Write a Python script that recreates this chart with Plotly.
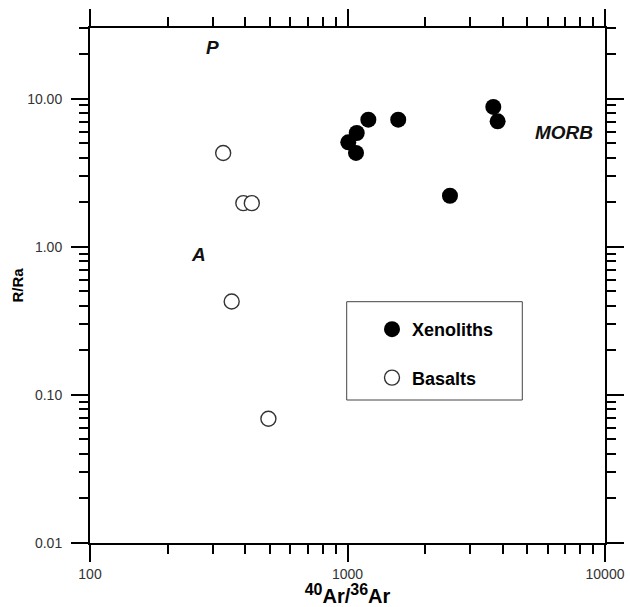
import math
import plotly.graph_objects as go

# ---- data ----
xeno_x = [1205, 1574, 1086, 1007, 1079, 3683, 3828, 2500]
xeno_y = [7.21, 7.21, 5.86, 5.07, 4.30, 8.79, 7.03, 2.21]

bas_x = [329, 394, 425, 355, 493]
bas_y = [4.30, 1.97, 1.97, 0.427, 0.069]

x_tickvals = [100, 1000, 10000]
x_ticktext = ["100", "1000", "10000"]
y_tickvals = [0.01, 0.1, 1, 10]
y_ticktext = ["0.01", "0.10", "1.00", "10.00"]

label_text = ["P", "A", "MORB"]
label_x = [300, 265, 6930]
label_y = [22.1, 0.883, 5.89]

W, H = 630, 607
ML, MR, MT, MB = 90, 25, 28, 64
PW, PH = W - ML - MR, H - MT - MB

def px_x(p):
    return (p - ML) / PW

def px_y(p):
    return (H - MB - p) / PH

FONT = "Liberation Sans, Arial"

fig = go.Figure()
fig.add_trace(go.Scatter(
    x=xeno_x, y=xeno_y, mode="markers", name="Xenoliths", legendgroup="a",
    marker=dict(size=16, color="black", line=dict(width=0)),
))
fig.add_trace(go.Scatter(
    x=bas_x, y=bas_y, mode="markers", name="Basalts", legendgroup="b",
    marker=dict(size=15, color="white", line=dict(width=1.4, color="#333333")),
))

for t, xv, yv in zip(label_text, label_x, label_y):
    fig.add_annotation(x=math.log10(xv), y=math.log10(yv),
                       xref="x", yref="y", text=f"<b><i>{t}</i></b>", showarrow=False,
                       font=dict(family=FONT, size=19, color="#111"))

# legend box
fig.add_shape(type="rect", xref="paper", yref="paper",
              x0=px_x(346.7), x1=px_x(522.3), y0=px_y(400), y1=px_y(301.7),
              line=dict(color="#444", width=1), fillcolor="rgba(0,0,0,0)")

axis_common = dict(
    type="log", showgrid=False, zeroline=False, automargin=False,
    showline=True, linecolor="black", linewidth=2,
    ticks="outside", ticklen=17, tickwidth=2, tickcolor="black",
    mirror="allticks",
    minor=dict(ticks="outside", ticklen=9, tickwidth=2, tickcolor="black", dtick="D1"),
    tickfont=dict(family=FONT, size=14, color="#333"),
)

fig.update_xaxes(**axis_common, range=[2, 4], tickmode="array",
                 tickvals=x_tickvals, ticktext=x_ticktext, ticklabelstandoff=0,
                 title=dict(text='<b><sup><span style="font-size:16px">40</span></sup>Ar/'
                                 '<sup><span style="font-size:16px">36</span></sup>Ar</b>',
                            font=dict(family=FONT, size=20, color="black"),
                            standoff=6))
fig.update_yaxes(**axis_common, range=[-2, 1.477], tickmode="array",
                 tickvals=y_tickvals, ticktext=y_ticktext, ticklabelstandoff=6,
                 title=dict(text="<b>R/Ra</b>",
                            font=dict(family=FONT, size=15, color="black"),
                            standoff=0))

fig.update_layout(
    width=W, height=H,
    margin=dict(l=ML, r=MR, t=MT, b=MB),
    paper_bgcolor="white", plot_bgcolor="white",
    legend=dict(x=px_x(372), y=px_y(311), xanchor="left", yanchor="top",
                bgcolor="rgba(0,0,0,0)", borderwidth=0, tracegroupgap=22,
                font=dict(family=FONT, size=18, color="black", weight="bold"),
                itemsizing="trace"),
    showlegend=True,
)

fig.write_html("out.html")
